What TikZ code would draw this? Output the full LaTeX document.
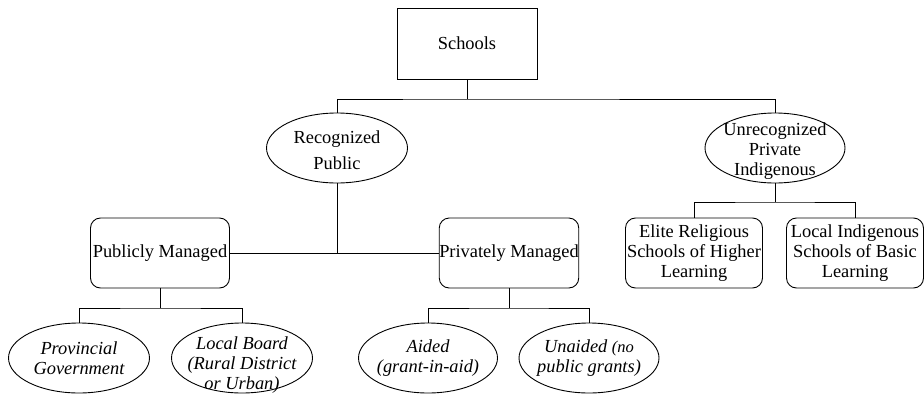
\documentclass[tikz,border=0pt]{standalone}
\usepackage{fontspec}
\setmainfont{Liberation Serif}
\usetikzlibrary{shapes.geometric, positioning}

\begin{document}
\begin{tikzpicture}[x=1pt, y=-1pt, line width=0.9pt,
  every node/.style={font=\fontsize{18.4}{20}\selectfont},
  box/.style={draw, minimum width=140pt, minimum height=71pt, inner sep=0pt, align=center},
  rbox/.style={box, rounded corners=10pt, minimum width=137pt, minimum height=70pt},
  oval/.style={draw, ellipse, minimum width=141pt, minimum height=70pt, inner sep=0pt},
  otext/.style={align=center, inner sep=0pt},
  itext/.style={otext, font=\fontsize{18.4}{20}\selectfont\itshape}]
  \useasboundingbox (0,0) rectangle (924,397);

  % Top level
  \node[box] (schools) at (467,43.5) {Schools};
  \coordinate (topbar) at (467,99);

  % Second level
  \node[oval, label={[otext, yshift=-2pt]center:{Recognized\\[6pt]Public}}] (recog) at (337,148) {};
  \node[oval, minimum width=140pt, label={[otext, yshift=-3pt]center:{Unrecognized\\Private\\Indigenous}}] (unrec) at (775,148) {};

  % Management
  \node[rbox, minimum width=139pt] (pub) at (160,253) {Publicly Managed};
  \node[rbox, minimum width=139pt] (priv) at (509,253) {Privately Managed};

  % Indigenous schools
  \node[rbox] (elite) at (694,253) {Elite Religious\\Schools of Higher\\Learning};
  \node[rbox] (basic) at (855,253) {Local Indigenous\\Schools of Basic\\Learning};
  \coordinate (unbar) at (775,202);

  % Bottom level
  \node[oval, label={[itext]center:{Provincial\\Government}}] (prov) at (79,358) {};
  \node[oval, label={[itext, yshift=-7pt]center:{Local Board\\(Rural District\\or Urban)}}] (board) at (242,358) {};
  \node[oval, minimum width=139pt, label={[itext]center:{Aided\\(grant-in-aid)}}] (aided) at (428,358) {};
  \node[oval, minimum width=140pt, label={[itext]center:{Unaided\ {\fontsize{16.5}{20}\selectfont(no}\\public grants)}}] (unaided) at (589,358) {};
  \coordinate (pubbar) at (160,308);
  \coordinate (privbar) at (509,308);

  % Connectors
  \draw (schools.south) -- (topbar);
  \draw (recog.north) |- (topbar) -| (unrec.north);
  \draw (recog.south) -- (recog.south |- pub.east);
  \draw (pub.east) -- (priv.west);
  \draw (unrec.south) -- (unbar);
  \draw (elite.north) |- (unbar) -| (basic.north);
  \draw (pub.south) -- (pubbar);
  \draw (prov.north) |- (pubbar) -| (board.north);
  \draw (priv.south) -- (privbar);
  \draw (aided.north) |- (privbar) -| (unaided.north);
\end{tikzpicture}
\end{document}
